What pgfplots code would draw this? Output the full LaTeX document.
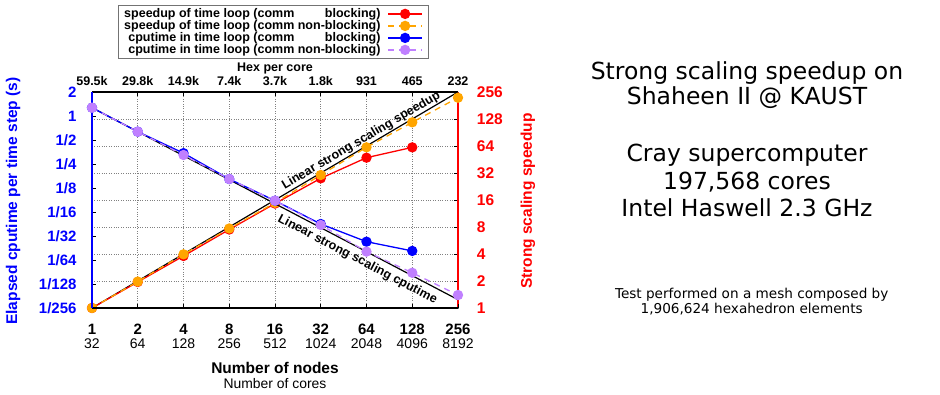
\documentclass[border=0pt]{standalone}
\usepackage{pgfplots}
\pgfplotsset{compat=1.18}
\usepackage{fontspec}
\setmainfont{Liberation Sans}
\newfontfamily\dejavu{DejaVu Sans}
\definecolor{cred}{RGB}{255,0,0}
\definecolor{corange}{RGB}{255,165,0}
\definecolor{cblue}{RGB}{0,0,255}
\definecolor{cpurple}{RGB}{192,128,255}
\newcommand{\fs}[2]{\fontsize{#1}{#2}\selectfont}
\newcommand{\bt}[1]{{\fs{15}{14.3}\bfseries #1}}

\begin{document}
\begin{tikzpicture}[x=1pt,y=1pt]
\path[use as bounding box] (0,0) rectangle (940,395);

% ---------- right axis: speedup ----------
\begin{axis}[
  at={(92pt,87pt)}, anchor=south west, scale only axis,
  width=366pt, height=216pt, clip=false,
  xmode=log, ymode=log, log basis x=2, log basis y=2,
  xmin=1, xmax=256, ymin=1, ymax=256,
  axis x line*=top, axis y line*=right,
  x axis line style={-, black, line width=1.2pt},
  y axis line style={-, cred, line width=1.8pt},
  xtick={1,2,4,8,16,32,64,128,256},
  xticklabels={59.5k,29.8k,14.9k,7.4k,3.7k,1.8k,931,465,232},
  ytick={1,2,4,8,16,32,64,128,256},
  yticklabels={1,2,4,8,16,32,64,128,256},
  xminorticks=false, yminorticks=false,
  tick align=inside, major tick length=4pt,
  tick style={black, line width=0.6pt},
  xmajorgrids, ymajorgrids,
  grid style={dotted, gray, line width=0.7pt},
  xticklabel style={font=\fs{12.5}{12.5}\bfseries, anchor=base, inner sep=0pt, yshift=6.3pt},
  yticklabel style={font=\fs{15.5}{15.5}\bfseries, text=cred, anchor=base west, inner sep=0pt, xshift=18.7pt, yshift=-5.5pt},
  xlabel={Hex per core},
  xlabel style={font=\fs{12.5}{12.5}\bfseries, at={(axis description cs:0.5,1.094)}, anchor=base, inner sep=0pt},
  ylabel={Strong scaling speedup},
  ylabel style={font=\fs{15.5}{15.5}\bfseries, text=cred, at={(axis description cs:1.1913,0.495)}, anchor=center, inner sep=0pt},
  legend style={at={(0.4959,1.4028)}, anchor=north, draw=black!55, line width=0.8pt, fill=white,
    inner xsep=6pt, inner ysep=2.5pt, font=\fs{12.5}{12.5}\bfseries,
    nodes={inner sep=0pt, text height=9.2pt, text depth=2.8pt},
    /tikz/column sep=7pt},
  legend cell align=right, legend plot pos=right,
  legend image code/.code={\draw[mark repeat=2, mark phase=2, #1] plot coordinates {(0pt,0pt) (17pt,0pt) (34pt,0pt)};},
]
\addplot[black, line width=1.2pt, forget plot] coordinates {(1,1) (256,256)};
\addplot[cred, line width=1.3pt, mark=*, mark size=4.5pt, mark options={solid}] coordinates {
  (1,1) (2,1.95) (4,3.8) (8,7.5) (16,14.6) (32,27.9) (64,47.4) (128,61.8)};
\addlegendentry{speedup of time loop (comm \phantom{non-}blocking)}
\addplot[corange, line width=1.3pt, dash pattern=on 6pt off 5pt, mark=*, mark size=4.5pt, mark options={solid}] coordinates {
  (1,1) (2,1.97) (4,3.97) (8,7.7) (16,14.9) (32,30.4) (64,61.9) (128,117.6) (256,221)};
\addlegendentry{speedup of time loop (comm non-blocking)}
\addlegendimage{cblue, line width=1.3pt, mark=*, mark size=4.5pt, mark options={solid}}
\addlegendentry{cputime in time loop (comm \phantom{non-}blocking)}
\addlegendimage{cpurple, line width=1.3pt, dash pattern=on 6pt off 5pt, mark=*, mark size=4.5pt, mark options={solid}}
\addlegendentry{cputime in time loop (comm non-blocking)}
\node[rotate=30.55, font=\fs{12.5}{12.5}\bfseries] at (axis cs:59.06,73.3) {Linear strong scaling speedup};
\end{axis}

% ---------- left axis: cputime ----------
\begin{axis}[
  at={(92pt,87pt)}, anchor=south west, scale only axis,
  width=366pt, height=216pt, clip=false,
  xmode=log, ymode=log, log basis x=2, log basis y=2,
  xmin=1, xmax=256, ymin=0.00390625, ymax=2,
  axis x line*=bottom, axis y line*=left,
  x axis line style={-, black, line width=1.2pt},
  y axis line style={-, cblue, line width=1.8pt},
  xtick={1,2,4,8,16,32,64,128,256},
  xticklabels={{\bt{1}\\32},{\bt{2}\\64},{\bt{4}\\128},{\bt{8}\\256},{\bt{16}\\512},{\bt{32}\\1024},{\bt{64}\\2048},{\bt{128}\\4096},{\bt{256}\\8192}},
  ytick={0.00390625,0.0078125,0.015625,0.03125,0.0625,0.125,0.25,0.5,1,2},
  yticklabels={1/256,1/128,1/64,1/32,1/16,1/8,1/4,1/2,1,2},
  xminorticks=false, yminorticks=false,
  tick align=inside, major tick length=4pt,
  tick style={black, line width=0.6pt},
  xticklabel style={font=\fs{14}{14.3}, align=center, anchor=north, inner sep=0pt, yshift=-16pt},
  yticklabel style={font=\fs{15}{15}\bfseries, text=cblue, anchor=base east, inner sep=0pt, xshift=-15.3pt, yshift=-5.4pt},
  xlabel={\textbf{Number of nodes}\\{\fs{13.9}{15.7}Number of cores}},
  xlabel style={font=\fs{15.5}{15.7}, align=center, at={(axis description cs:0.5,-0.2486)}, anchor=north, inner sep=0pt},
  ylabel={Elapsed cputime per time step (s)},
  ylabel style={font=\fs{15.5}{15.5}\bfseries, text=cblue, at={(axis description cs:-0.2158,0.495)}, anchor=center, inner sep=0pt},
]
\addplot[black, line width=1.2pt] coordinates {(1,1.271) (256,0.004965)};
\addplot[cblue, line width=1.3pt, mark=*, mark size=4.5pt, mark options={solid}] coordinates {
  (1,1.271) (2,0.636) (4,0.342) (8,0.162) (16,0.0866) (32,0.0442) (64,0.0265) (128,0.0203)};
\addplot[cpurple, line width=1.3pt, dash pattern=on 6pt off 5pt, mark=*, mark size=4.5pt, mark options={solid}] coordinates {
  (1,1.271) (2,0.636) (4,0.324) (8,0.162) (16,0.0866) (32,0.0430) (64,0.0199) (128,0.0108) (256,0.00568)};
\node[rotate=-27.68, font=\fs{12.5}{12.5}\bfseries] at (axis cs:55.8,0.01585) {Linear strong scaling cputime};
\end{axis}

% ---------- right-hand text ----------
\begin{scope}[every node/.style={anchor=base, inner sep=0pt}]
\node[font=\dejavu\fs{23.5}{23.5}] at (747,315.7) {Strong scaling speedup on};
\node[font=\dejavu\fs{23.5}{23.5}] at (747,290) {Shaheen II @ KAUST};
\node[font=\dejavu\fs{23.5}{23.5}] at (747,233.3) {Cray supercomputer};
\node[font=\dejavu\fs{23.5}{23.5}] at (747,205.7) {197,568 cores};
\node[font=\dejavu\fs{23.5}{23.5}] at (747,178.3) {Intel Haswell 2.3 GHz};
\node[font=\dejavu\fs{13.6}{13.6}] at (751.7,96.7) {Test performed on a mesh composed by};
\node[font=\dejavu\fs{13.6}{13.6}] at (751.7,81.7) {1,906,624 hexahedron elements};
\end{scope}
\end{tikzpicture}
\end{document}
